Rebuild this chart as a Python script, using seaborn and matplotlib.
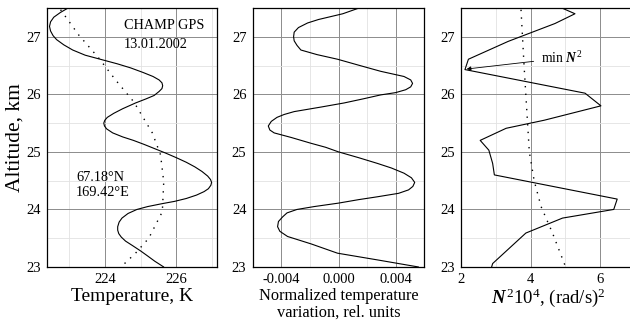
import numpy as np
import pandas as pd
import matplotlib
matplotlib.use("Agg")
import matplotlib.pyplot as plt
from matplotlib.ticker import MultipleLocator, FormatStrFormatter
import seaborn as sns

# ---- data ----
alt_T = [27.5, 27.42, 27.34, 27.26, 27.18, 27.1, 27.02, 26.95, 26.86, 26.77, 26.68, 26.6,
         26.53, 26.46, 26.38, 26.31, 26.25, 26.2, 26.15, 26.1, 26.05, 25.98, 25.92, 25.85,
         25.75, 25.67, 25.6, 25.55, 25.5, 25.45, 25.4, 25.33, 25.26, 25.2, 25.13, 25.06,
         24.98, 24.9, 24.82, 24.74, 24.66, 24.58, 24.52, 24.47, 24.42, 24.36, 24.31, 24.25,
         24.19, 24.14, 24.1, 24.05, 24.0, 23.93, 23.85, 23.78, 23.7, 23.64, 23.58, 23.52,
         23.45, 23.37, 23.28, 23.2, 23.1, 23.0]
temp = [222.97, 222.75, 222.57, 222.48, 222.45, 222.48, 222.55, 222.65, 222.85, 223.1, 223.45, 223.93,
        224.35, 224.72, 225.07, 225.35, 225.52, 225.6, 225.62, 225.6, 225.52, 225.38, 225.15, 224.86,
        224.5, 224.25, 224.07, 224.0, 223.97, 223.99, 224.05, 224.22, 224.5, 224.8, 225.1, 225.38,
        225.7, 226.0, 226.28, 226.52, 226.72, 226.88, 226.96, 226.99, 226.97, 226.9, 226.78, 226.57,
        226.28, 225.95, 225.6, 225.2, 224.9, 224.65, 224.48, 224.4, 224.36, 224.36, 224.39, 224.46,
        224.58, 224.78, 225.0, 225.18, 225.4, 225.65]

alt_Tbg = [27.47, 27.03, 26.63, 26.25, 25.87, 25.33, 24.95, 24.48, 23.96, 23.5, 23.24, 23.0]
temp_bg = [222.76, 223.27, 223.83, 224.3, 224.81, 225.33, 225.56, 225.65, 225.61, 225.23, 224.86, 224.45]

alt_var = [27.5, 27.4, 27.3, 27.24, 27.16, 27.08, 27.0, 26.93, 26.85, 26.77, 26.69, 26.61,
           26.5, 26.4, 26.31, 26.25, 26.19, 26.13, 26.08, 26.03, 25.99, 25.92, 25.85, 25.78,
           25.7, 25.65, 25.6, 25.53, 25.45, 25.38, 25.33, 25.25, 25.15, 25.08, 25.0, 24.9,
           24.8, 24.72, 24.63, 24.55, 24.47, 24.4, 24.34, 24.28, 24.22, 24.17, 24.11, 24.05,
           24.0, 23.94, 23.87, 23.79, 23.7, 23.62, 23.53, 23.4, 23.24, 23.12, 23.0]
variation = [0.00144, 0.0003, -0.0014, -0.00216, -0.0028, -0.0031, -0.00314, -0.0031, -0.0029, -0.00263, -0.0015, -0.00007,
             0.0015, 0.00295, 0.00458, 0.00505, 0.00518, 0.00505, 0.0047, 0.0040, 0.00295, 0.0017, 0.00039, -0.0012,
             -0.0031, -0.0038, -0.0043, -0.0047, -0.00491, -0.0048, -0.0045, -0.0033, -0.00193, -0.0009, 0.0, 0.0014,
             0.00272, 0.0037, 0.00458, 0.0051, 0.00533, 0.0052, 0.0049, 0.0042, 0.00272, 0.0014, 0.0, -0.0017,
             -0.0029, -0.0036, -0.00391, -0.0042, -0.00426, -0.0041, -0.00356, -0.0019, -0.00007, 0.0028, 0.0056]

alt_N2 = [27.5, 27.4, 27.23, 26.92, 26.61, 26.43, 26.02, 25.8, 25.55, 25.41, 25.2, 25.03,
          24.8, 24.6, 24.18, 24.0, 23.85, 23.59, 23.06, 23.0]
N2 = [4.9, 5.28, 4.7, 3.35, 2.2, 2.1, 5.57, 6.03, 4.39, 3.29, 2.54, 2.79,
      2.9, 2.95, 6.5, 6.4, 4.92, 3.86, 2.9, 2.87]

alt_N2bg = [27.47, 26.48, 25.0, 24.5, 24.05, 23.59, 23.0]
N2_bg = [3.72, 3.81, 3.96, 4.1, 4.3, 4.63, 5.01]

yticks = [23, 24, 25, 26, 27]

# ---- style ----
sns.set_style("white", {"text.color": "black", "axes.labelcolor": "black",
                        "xtick.color": "black", "ytick.color": "black"})
plt.rcParams['font.family'] = ['Liberation Serif', 'DejaVu Serif']
plt.rcParams['mathtext.fontset'] = 'custom'
plt.rcParams['mathtext.rm'] = 'Liberation Serif'
plt.rcParams['mathtext.it'] = 'Liberation Serif:italic'
plt.rcParams['mathtext.bf'] = 'Liberation Serif:bold'
plt.rcParams['mathtext.bfit'] = 'Liberation Serif:bold:italic'

fig = plt.figure(figsize=(6.3, 3.26), dpi=100)
bottom = 59 / 326
height = (267 - 8) / 326
ax1 = fig.add_axes([47 / 630, bottom, 170.3 / 630, height])
ax2 = fig.add_axes([252.7 / 630, bottom, 171.6 / 630, height])
ax3 = fig.add_axes([461.5 / 630, bottom, 173 / 630, height])

dot = (0, (1, 4.5))

sns.lineplot(x=temp, y=alt_T, sort=False, estimator=None, color='black', lw=0.8, ax=ax1)
sns.lineplot(x=temp_bg, y=alt_Tbg, sort=False, estimator=None, color='black', lw=1.0,
             linestyle=dot, ax=ax1)
sns.lineplot(x=variation, y=alt_var, sort=False, estimator=None, color='black', lw=0.8, ax=ax2)
sns.lineplot(x=N2, y=alt_N2, sort=False, estimator=None, color='black', lw=0.8, ax=ax3)
sns.lineplot(x=N2_bg, y=alt_N2bg, sort=False, estimator=None, color='black', lw=1.0,
             linestyle=dot, ax=ax3)

ax1.set_xlim(222.38, 227.15)
ax1.set_xticks([224, 226])
ax1.xaxis.set_minor_locator(MultipleLocator(1))

ax2.set_xlim(-0.006, 0.006)
ax2.set_xticks([-0.004, 0.0, 0.004])
ax2.xaxis.set_minor_locator(MultipleLocator(0.002))
ax2.xaxis.set_major_formatter(FormatStrFormatter('%.3f'))

ax3.set_xlim(2, 7)
ax3.set_xticks([2, 4, 6])
ax3.xaxis.set_minor_locator(MultipleLocator(1))

for ax in (ax1, ax2, ax3):
    ax.set_ylim(23, 27.5)
    ax.set_yticks(yticks)
    ax.yaxis.set_minor_locator(MultipleLocator(0.5))
    ax.grid(which='major', color='#8c8c8c', lw=0.7)
    ax.grid(which='minor', color='#e2e2e2', lw=0.6)
    ax.set_axisbelow(True)
    ax.tick_params(which='major', direction='out', length=3, width=0.7, color='#555555',
                   labelcolor='black', labelsize=10.5, pad=1.5)
    ax.tick_params(which='minor', length=0)
    for s in ax.spines.values():
        s.set_color('black')
        s.set_linewidth(0.9)
    ax.set_ylabel('')

ax1.set_ylabel('Altitude, km', fontsize=15.5, labelpad=1, color='black')
ax1.set_xlabel('Temperature, K', fontsize=14, labelpad=1, color='black')
ax2.set_xlabel('Normalized temperature\nvariation, rel. units', fontsize=11.8,
               labelpad=1, linespacing=1.05, color='black')
ax3.set_xlabel(r'$\mathbfit{N}^{\,2}\mathrm{10}^{4}$, (rad/s)$^{2}$', fontsize=13.5,
               labelpad=0, color='black')

ax1.text(224.53, 27.19, 'CHAMP GPS', fontsize=10.3, va='center', ha='left', color='black')
ax1.text(224.53, 26.87, '13.01.2002', fontsize=10.3, va='center', ha='left', color='black')
ax1.text(223.2, 24.56, '67.18°N', fontsize=10.3, va='center', ha='left', color='black')
ax1.text(223.2, 24.30, '169.42°E', fontsize=10.3, va='center', ha='left', color='black')

ax3.annotate(r'min $\mathbfit{N}^{\,2}$', xy=(2.15, 26.44), xytext=(4.3, 26.63),
             fontsize=9.8, va='center', ha='left', color='black',
             arrowprops=dict(arrowstyle='-|>', color='black', lw=0.6,
                             mutation_scale=6, shrinkA=3, shrinkB=0))

fig.savefig('out.png', dpi=100)
